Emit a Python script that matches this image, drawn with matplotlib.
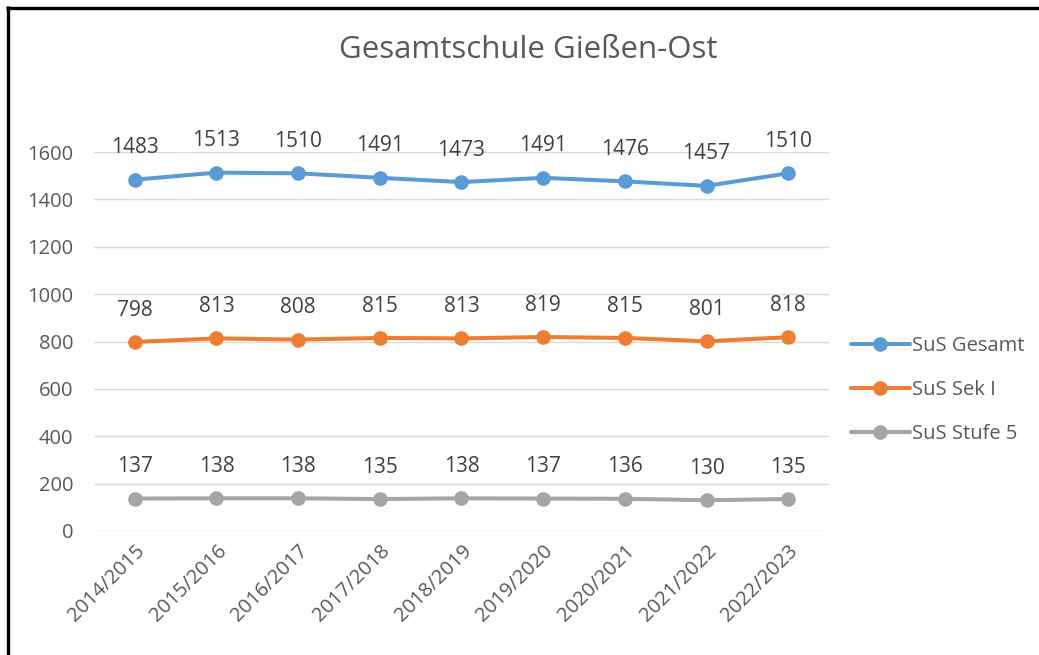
import matplotlib
matplotlib.use("Agg")
import matplotlib.pyplot as plt
from matplotlib.lines import Line2D

categories = ["2014/2015", "2015/2016", "2016/2017", "2017/2018", "2018/2019",
              "2019/2020", "2020/2021", "2021/2022", "2022/2023"]
sus_gesamt = [1483, 1513, 1510, 1491, 1473, 1491, 1476, 1457, 1510]
sus_sek1 = [798, 813, 808, 815, 813, 819, 815, 801, 818]
sus_stufe5 = [137, 138, 138, 135, 138, 137, 136, 130, 135]
series_names = ["SuS Gesamt", "SuS Sek I", "SuS Stufe 5"]
yticks = [0, 200, 400, 600, 800, 1000, 1200, 1400, 1600]

colors = ["#5B9BD5", "#ED7D31", "#A5A5A5"]
txt = "#595959"
plt.rcParams['font.family'] = ['Open Sans', 'DejaVu Sans']

W, H = 1039, 655
fig = plt.figure(figsize=(W / 100, H / 100), dpi=100)
ax = fig.add_axes([94 / W, (H - 531) / H, (829 - 94) / W, (531 - 152) / H])

x = list(range(len(categories)))
for vals, name, c in zip([sus_gesamt, sus_sek1, sus_stufe5], series_names, colors):
    ax.plot(x, vals, color=c, lw=2.9, marker='o', markersize=9.5, label=name,
            solid_capstyle='round', zorder=3)
    for xi, v in zip(x, vals):
        ax.annotate(str(v), (xi, v), xytext=(0, 23), textcoords='offset points',
                    ha='center', va='center', fontsize=15, color='#404040')

ax.set_xlim(-0.5, len(categories) - 0.5)
ax.set_ylim(0, 1600)
ax.set_yticks(yticks)
ax.set_yticklabels([str(t) for t in yticks])
ax.set_xticks(x)
ax.set_xticklabels(categories, rotation=45, ha='right', rotation_mode='anchor')
ax.tick_params(axis='both', length=0, labelsize=14.5, colors=txt)
ax.tick_params(axis='y', pad=15)
ax.tick_params(axis='x', pad=7)
for s in ax.spines.values():
    s.set_visible(False)
ax.grid(axis='y', color='#D9D9D9', lw=1)
ax.set_axisbelow(True)

fig.text(528 / W, 1 - 50 / H, "Gesamtschule Gießen-Ost", ha='center', va='center',
         fontsize=22.5, color=txt)

leg = fig.legend(loc='upper left', bbox_to_anchor=(833 / W, 1 - 318 / H), frameon=False,
                 fontsize=14.5, labelspacing=1.2, handlelength=2.9, handletextpad=0.1,
                 labelcolor=txt)

fig.add_artist(Line2D([7.5 / W, 7.5 / W], [0, 1 - 6 / H], transform=fig.transFigure,
                      color='black', lw=2.4, solid_capstyle='butt'))
fig.add_artist(Line2D([6 / W, 1], [1 - 7.5 / H, 1 - 7.5 / H], transform=fig.transFigure,
                      color='black', lw=2.4, solid_capstyle='butt'))

fig.savefig("out.png", dpi=100, facecolor='white')
